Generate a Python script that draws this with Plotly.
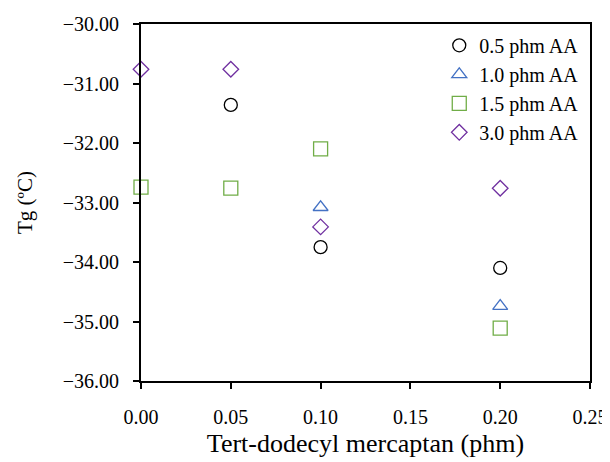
import plotly.graph_objects as go

series_names = ["0.5 phm AA", "1.0 phm AA", "1.5 phm AA", "3.0 phm AA"]
x_05 = [0.05, 0.10, 0.20]
y_05 = [-31.36, -33.75, -34.10]
x_10 = [0.10, 0.20]
y_10 = [-33.08, -34.74]
x_15 = [0.00, 0.05, 0.10, 0.20]
y_15 = [-32.74, -32.76, -32.10, -35.11]
x_30 = [0.00, 0.05, 0.10, 0.20]
y_30 = [-30.76, -30.76, -33.41, -32.76]

colors = ["#000000", "#4472C4", "#70AD47", "#7030A0"]
symbols = ["circle-open", "triangle-up-open", "square-open", "diamond-open"]
sizes = [13, 13, 14, 12]
xs = [x_05, x_10, x_15, x_30]
ys = [y_05, y_10, y_15, y_30]

FONT = "Liberation Serif"
fig = go.Figure()
for name, x, y, c, s, sz in zip(series_names, xs, ys, colors, symbols, sizes):
    fig.add_trace(go.Scatter(
        x=x, y=y, mode="markers", name=name,
        marker=dict(symbol=s, size=sz, color=c, line=dict(width=1.3, color=c)),
        cliponaxis=False,
    ))

fig.update_layout(
    width=610, height=462,
    margin=dict(l=133, r=28, t=16, b=89),
    paper_bgcolor="white", plot_bgcolor="white",
    font=dict(family=FONT, size=20, color="#000000"),
    showlegend=True,
    legend=dict(x=0.985, y=0.995, xanchor="right", yanchor="top",
                bgcolor="rgba(0,0,0,0)", font=dict(size=20, family=FONT, color="#000000"),
                itemwidth=30, tracegroupgap=0),
    xaxis=dict(range=[0, 0.25], tickvals=[0, 0.05, 0.10, 0.15, 0.20, 0.25],
               tickformat=".2f", showgrid=False, zeroline=False, automargin=False,
               showline=True, linecolor="black", linewidth=2, mirror=True,
               ticks="outside", ticklen=6, tickwidth=2, tickcolor="black",
               ticklabelstandoff=11,
               title=dict(text="Tert-dodecyl mercaptan (phm)", font=dict(size=26, family=FONT, color="#000000"), standoff=7),
               tickfont=dict(size=20, family=FONT, color="#000000")),
    yaxis=dict(range=[-36, -30], tickvals=[-36, -35, -34, -33, -32, -31, -30],
               tickformat=".2f", showgrid=False, zeroline=False, automargin=False,
               showline=True, linecolor="black", linewidth=2, mirror=True,
               ticks="outside", ticklen=6, tickwidth=2, tickcolor="black",
               ticklabelstandoff=10,
               title=dict(text="Tg (ºC)", font=dict(size=21, family=FONT, color="#000000"), standoff=24),
               tickfont=dict(size=20, family=FONT, color="#000000")),
)

fig.write_html("out.html")
